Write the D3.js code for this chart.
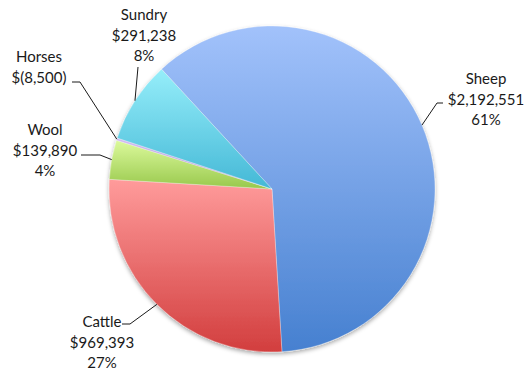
<!DOCTYPE html>
<html>
<head>
<meta charset="utf-8">
<script src="https://cdn.jsdelivr.net/npm/d3@7/dist/d3.min.js"></script>
<style>
  html, body { margin: 0; padding: 0; background: #fff; }
  svg { display: block; }
  text { font-family: Lato, "Open Sans", sans-serif; font-size: 15px; fill: #1a1a1a; }
</style>
</head>
<body>
<svg id="chart" width="526" height="374"></svg>
<script>
// Income by category
const categories = ["Sheep", "Cattle", "Wool", "Horses", "Sundry"];
const amounts = [2192551, 969393, 139890, -8500, 291238];
const percentLabels = ["61%", "27%", "4%", null, "8%"];

// Two-stop vertical gradient per slice (top, bottom)
const topColors = ["#a2c2fb", "#ff9b9b", "#dcfa9c", "#d4bef4", "#96eefa"];
const bottomColors = ["#4680d0", "#d23e3e", "#98c84c", "#a488d4", "#44b8d6"];

// Label placement: text centre x, first baseline y, knee and end of the leader line
const labelLayout = {
  Sheep:  { x: 486, y: 84,  knee: [437, 103], end: [443, 103] },
  Cattle: { x: 102, y: 327, knee: [130, 324], end: [122, 324] },
  Wool:   { x: 45,  y: 135, knee: [100, 155], end: [81, 155] },
  Horses: { x: 39,  y: 62,  knee: [80, 82],   end: [72, 82] },
  Sundry: { x: 144, y: 20,  knee: [138, 67],  end: [138, 67] }
};

const cx = 272, cy = 189, radius = 163;
const lineH = 20.5;

const fmtMoney = v => {
  const s = d3.format(",")(Math.abs(v));
  return v < 0 ? "$(" + s + ")" : "$" + s;
};

const svg = d3.select("#chart");
const defs = svg.append("defs");

categories.forEach((c, i) => {
  const g = defs.append("linearGradient")
    .attr("id", "grad" + i)
    .attr("x1", 0).attr("y1", 0).attr("x2", 0).attr("y2", 1);
  g.append("stop").attr("offset", "0%").attr("stop-color", topColors[i]);
  g.append("stop").attr("offset", "100%").attr("stop-color", bottomColors[i]);
});

const shadow = defs.append("filter").attr("id", "shadow")
  .attr("x", "-10%").attr("y", "-10%").attr("width", "120%").attr("height", "120%");
shadow.append("feDropShadow")
  .attr("dx", 0).attr("dy", 2).attr("stdDeviation", 2)
  .attr("flood-color", "#000").attr("flood-opacity", 0.35);

// Slices: Excel-style pie uses absolute magnitudes
const sheepFrac = Math.abs(amounts[0]) / d3.sum(amounts, v => Math.abs(v));
const endOfFirst = 176.5 * Math.PI / 180;
const start = endOfFirst - sheepFrac * 2 * Math.PI;

const pie = d3.pie()
  .sort(null)
  .value(d => Math.abs(d.value))
  .startAngle(start)
  .endAngle(start + 2 * Math.PI);

const data = categories.map((c, i) => ({ name: c, value: amounts[i], pct: percentLabels[i], idx: i }));
const arcs = pie(data);

const arc = d3.arc().innerRadius(0).outerRadius(radius);

const pieG = svg.append("g")
  .attr("transform", `translate(${cx},${cy})`)
  .attr("filter", "url(#shadow)");

pieG.selectAll("path.slice")
  .data(arcs)
  .join("path")
  .attr("class", "slice")
  .attr("d", arc)
  .attr("fill", d => `url(#grad${d.data.idx})`)
  .attr("stroke", "rgba(255,255,255,0.5)")
  .attr("stroke-width", 0.6);

// Leader lines and labels
const lineG = svg.append("g");
const textG = svg.append("g");

arcs.forEach(a => {
  const L = labelLayout[a.data.name];
  const mid = (a.startAngle + a.endAngle) / 2;
  const px = cx + radius * Math.sin(mid);
  const py = cy - radius * Math.cos(mid);
  lineG.append("polyline")
    .attr("points", [[px, py], L.knee, L.end].map(p => p.join(",")).join(" "))
    .attr("fill", "none")
    .attr("stroke", "#1a1a1a")
    .attr("stroke-width", 1);

  const lines = [a.data.name, fmtMoney(a.data.value)];
  if (a.data.pct) lines.push(a.data.pct);
  const t = textG.append("text").attr("text-anchor", "middle");
  lines.forEach((s, k) => {
    t.append("tspan").attr("x", L.x).attr("y", L.y + k * lineH).text(s);
  });
});
</script>
</body>
</html>
